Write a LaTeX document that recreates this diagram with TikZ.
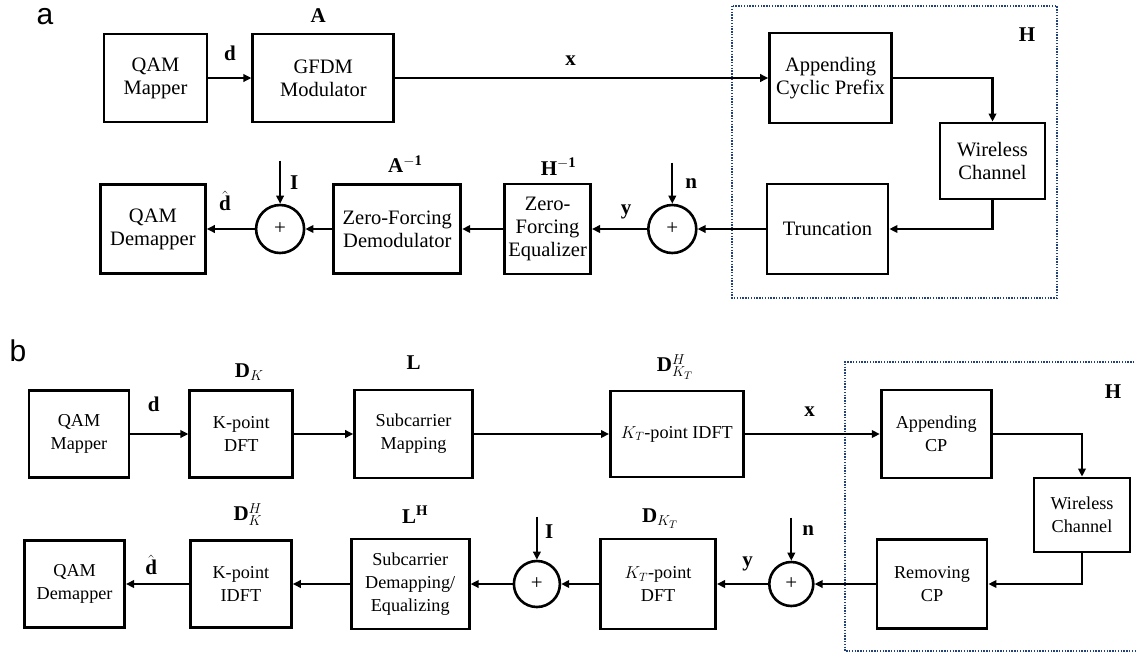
\documentclass[tikz,border=0pt]{standalone}
\usepackage{fontspec}
\setmainfont{Liberation Serif}
\newfontfamily\panelfont{Liberation Sans}
\usetikzlibrary{positioning,arrows.meta}
\definecolor{ink}{HTML}{000000}
\definecolor{dotblue}{HTML}{23427A}
\tikzset{
  blk/.style={draw=ink,line width=2.8pt,fill=white,align=center,inner sep=0pt,font=\fontsize{20.5}{23}\selectfont},
  blkb/.style={blk,font=\fontsize{18.2}{23}\selectfont},
  sum/.style={circle,draw=ink,line width=2.6pt,inner sep=0pt,font=\fontsize{21}{21}\selectfont},
  arr/.style={-{Triangle[length=8pt,width=7.5pt]},line width=2.2pt,draw=ink},
  sym/.style={inner sep=0pt,font=\fontsize{21}{21}\selectfont\bfseries},
  chan/.style={draw=dotblue,line width=1.4pt,dash pattern=on 1.4pt off 1.4pt},
  tag/.style={inner sep=0pt,font=\panelfont\fontsize{30}{30}\selectfont},
}
\begin{document}
\begin{tikzpicture}[x=1pt,y=-1pt]
\useasboundingbox (0,0) rectangle (1136,657);
% (a) GFDM chain
\node[tag] (ta) at (45,17) {a};
\node[blk,minimum width=103pt,minimum height=88pt] (qm) at (155.5,78) {QAM\\Mapper};
\node[blk,right=43pt of qm,minimum width=141pt,minimum height=88pt] (mod) {GFDM\\Modulator};
\node[blk,right=373pt of mod,minimum width=122pt,minimum height=90pt] (acp) {Appending\\Cyclic Prefix};
\node[blk,minimum width=105pt,minimum height=76pt] (wc) at (992.5,161) {Wireless\\Channel};
\node[blk,minimum width=121pt,minimum height=90pt] (tr) at (827.5,229) {Truncation};
\node[sum,left=68pt of tr,minimum size=48pt] (p2) {+};
\node[blk,left=55pt of p2,minimum width=86pt,minimum height=90pt] (zfe) {Zero-\\Forcing\\Equalizer};
\node[blk,left=41pt of zfe,minimum width=127pt,minimum height=89pt] (zfd) {Zero-Forcing\\Demodulator};
\node[sum,left=27pt of zfd,minimum size=48pt] (p1) {+};
\node[blk,left=48pt of p1,minimum width=105pt,minimum height=89pt] (qd) {QAM\\Demapper};
\draw[chan] (732,6) rectangle (1057,298);
\node[sym] (ha) at (1027,35) {H};
\node[sym,above=10pt of mod,xshift=-5pt] (la) {A};
\node[sym,above=10pt of zfd,xshift=8pt] (lai) {A$^{-\mathbf{1}}$};
\node[sym,above=7pt of zfe,xshift=11pt] (lhi) {H$^{-\mathbf{1}}$};
\coordinate[above=41pt of p2] (nin);
\coordinate[above=43pt of p1] (iin);
\draw[arr] (qm) -- node[sym,above=16pt] {d} (mod);
\draw[arr] (mod) -- node[sym,above=11pt,pos=0.47] {x} (acp);
\draw[arr] (acp.east) -| (wc.north);
\draw[arr] (wc.south) |- (tr.east);
\draw[arr] (tr) -- (p2);
\draw[arr] (nin) -- node[sym,right=12pt] {n} (p2);
\draw[arr] (p2) -- node[sym,above=9pt,pos=0.38] {y} (zfe);
\draw[arr] (zfe) -- (zfd);
\draw[arr] (zfd) -- (p1);
\draw[arr] (iin) -- node[sym,right=9pt] {I} (p1);
\draw[arr] (p1) -- node[sym,above=17pt,pos=0.62] {$\hat{\textbf{d}}$} (qd);
% (b) DFT-spread chain
\node[tag] (tb) at (18,351) {b};
\node[blkb,minimum width=100pt,minimum height=87pt] (qm2) at (79,434) {QAM\\Mapper};
\node[blkb,right=58pt of qm2,minimum width=103pt,minimum height=87pt] (dft) {K-point\\DFT};
\node[blkb,right=59pt of dft,minimum width=118pt,minimum height=88pt] (scm) {Subcarrier\\Mapping};
\node[blkb,right=135pt of scm,minimum width=133pt,minimum height=86pt] (idft) {$K_T$-point IDFT};
\node[blkb,right=135pt of idft,minimum width=110pt,minimum height=88pt] (acp2) {Appending\\CP};
\node[blkb,minimum width=96pt,minimum height=74pt] (wc2) at (1082,515) {Wireless\\Channel};
\node[blkb,minimum width=110pt,minimum height=89pt] (rcp) at (932,584) {Removing\\CP};
\node[sum,left=61pt of rcp,minimum size=44pt] (p4) {+};
\node[blkb,left=51pt of p4,minimum width=115pt,minimum height=90pt] (kdft) {$K_T$-point\\DFT};
\node[sum,left=38pt of kdft,minimum size=46pt] (p3) {+};
\node[blkb,left=42pt of p3,minimum width=118pt,minimum height=90pt] (sde) {Subcarrier\\Demapping/\\Equalizing};
\node[blkb,left=57pt of sde,minimum width=101pt,minimum height=87pt] (kidft) {K-point\\IDFT};
\node[blkb,left=63pt of kidft,minimum width=100pt,minimum height=87pt] (qd2) {QAM\\Demapper};
\draw[chan] (1140,362) -| (845,651) -- (1140,651);
\node[sym] (hb) at (1113,392) {H};
\node[sym,above=8pt of dft,xshift=8pt] (ldk) {D$_K$};
\node[sym,above=19pt of scm] (ll) {L};
\node[sym,above=10pt of idft,xshift=-2pt] (ldkt) {D$^H_{K_T}$};
\node[sym,above=13pt of kidft,xshift=7pt] (ldkh) {D$^H_K$};
\node[sym,above=14pt of sde,xshift=5pt] (llh) {L$^{\mathbf{H}}$};
\node[sym,above=9pt of kdft,xshift=2pt] (ldktt) {D$_{K_T}$};
\coordinate[above=43pt of p4] (nin2);
\coordinate[above=43pt of p3] (iin2);
\draw[arr] (qm2) -- node[sym,above=21pt,pos=0.4] {d} (dft);
\draw[arr] (dft) -- (scm);
\draw[arr] (scm) -- (idft);
\draw[arr] (idft) -- node[sym,above=16pt,pos=0.48] {x} (acp2);
\draw[arr] (acp2.east) -| (wc2.north);
\draw[arr] (wc2.south) |- (rcp.east);
\draw[arr] (rcp) -- (p4);
\draw[arr] (nin2) -- node[sym,right=10pt,pos=0.3] {n} (p4);
\draw[arr] (p4) -- node[sym,above=12pt,pos=0.4] {y} (kdft);
\draw[arr] (kdft) -- (p3);
\draw[arr] (iin2) -- node[sym,right=7pt,pos=0.35] {I} (p3);
\draw[arr] (p3) -- (sde);
\draw[arr] (sde) -- (kidft);
\draw[arr] (kidft) -- node[sym,above=8pt,pos=0.6] {$\hat{\textbf{d}}$} (qd2);
\end{tikzpicture}
\end{document}
